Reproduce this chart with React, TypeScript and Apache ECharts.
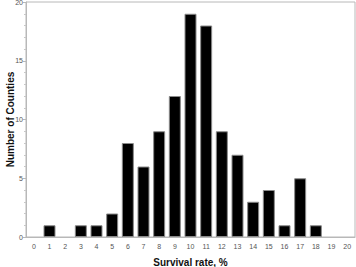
import React, { useEffect, useRef } from "react";
import * as echarts from "echarts";

const categories = ["0","1","2","3","4","5","6","7","8","9","10","11","12","13","14","15","16","17","18","19","20"];
const counts = [0, 1, 0, 1, 1, 2, 8, 6, 9, 12, 19, 18, 9, 7, 3, 4, 1, 5, 1, 0, 0];
const yMin = 0;
const yMax = 20;
const yInterval = 5;

export default function App() {
  const ref = useRef<HTMLDivElement>(null);
  useEffect(() => {
    if (!ref.current) return;
    const chart = echarts.init(ref.current, undefined, { renderer: "svg" });
    const font = "'Liberation Sans', Arial, sans-serif";
    chart.setOption({
      animation: false,
      backgroundColor: "#ffffff",
      grid: {
        left: 26, right: 1, top: 2, bottom: 30,
        containLabel: false, outerBoundsMode: "none",
        show: true, borderColor: "#b8b8b8", borderWidth: 1,
      },
      xAxis: {
        type: "category",
        data: categories,
        boundaryGap: true,
        name: "Survival rate, %",
        nameLocation: "middle",
        nameGap: 20,
        nameMoveOverlap: false,
        nameTextStyle: { fontFamily: font, fontSize: 10, fontWeight: "bold", color: "#111" },
        axisLine: { lineStyle: { color: "#b8b8b8" } },
        axisTick: { show: false },
        axisLabel: { fontFamily: font, fontSize: 7, color: "#555", margin: 6, interval: 0 },
      },
      yAxis: {
        type: "value",
        min: yMin,
        max: yMax,
        interval: yInterval,
        name: "Number of Counties",
        nameLocation: "middle",
        nameGap: 11,
        nameMoveOverlap: false,
        nameTextStyle: { fontFamily: font, fontSize: 10, fontWeight: "bold", color: "#111" },
        axisLine: { show: true, lineStyle: { color: "#b8b8b8" } },
        axisTick: { show: true, length: 3, lineStyle: { color: "#b8b8b8" } },
        minorTick: { show: true, splitNumber: 5, length: 2, lineStyle: { color: "#c8c8c8" } },
        splitLine: { show: false },
        axisLabel: { fontFamily: font, fontSize: 7, color: "#555", margin: 3 },
      },
      series: [
        {
          type: "bar",
          data: counts.map((v) => (v === 0 ? null : v)),
          barWidth: 12,
          itemStyle: { color: "#000", borderColor: "#8a8a8a", borderWidth: 1 },
        },
      ],
    });
    return () => chart.dispose();
  }, []);
  return <div ref={ref} style={{ position: "fixed", left: 0, top: 0, width: 356, height: 267 }} />;
}
